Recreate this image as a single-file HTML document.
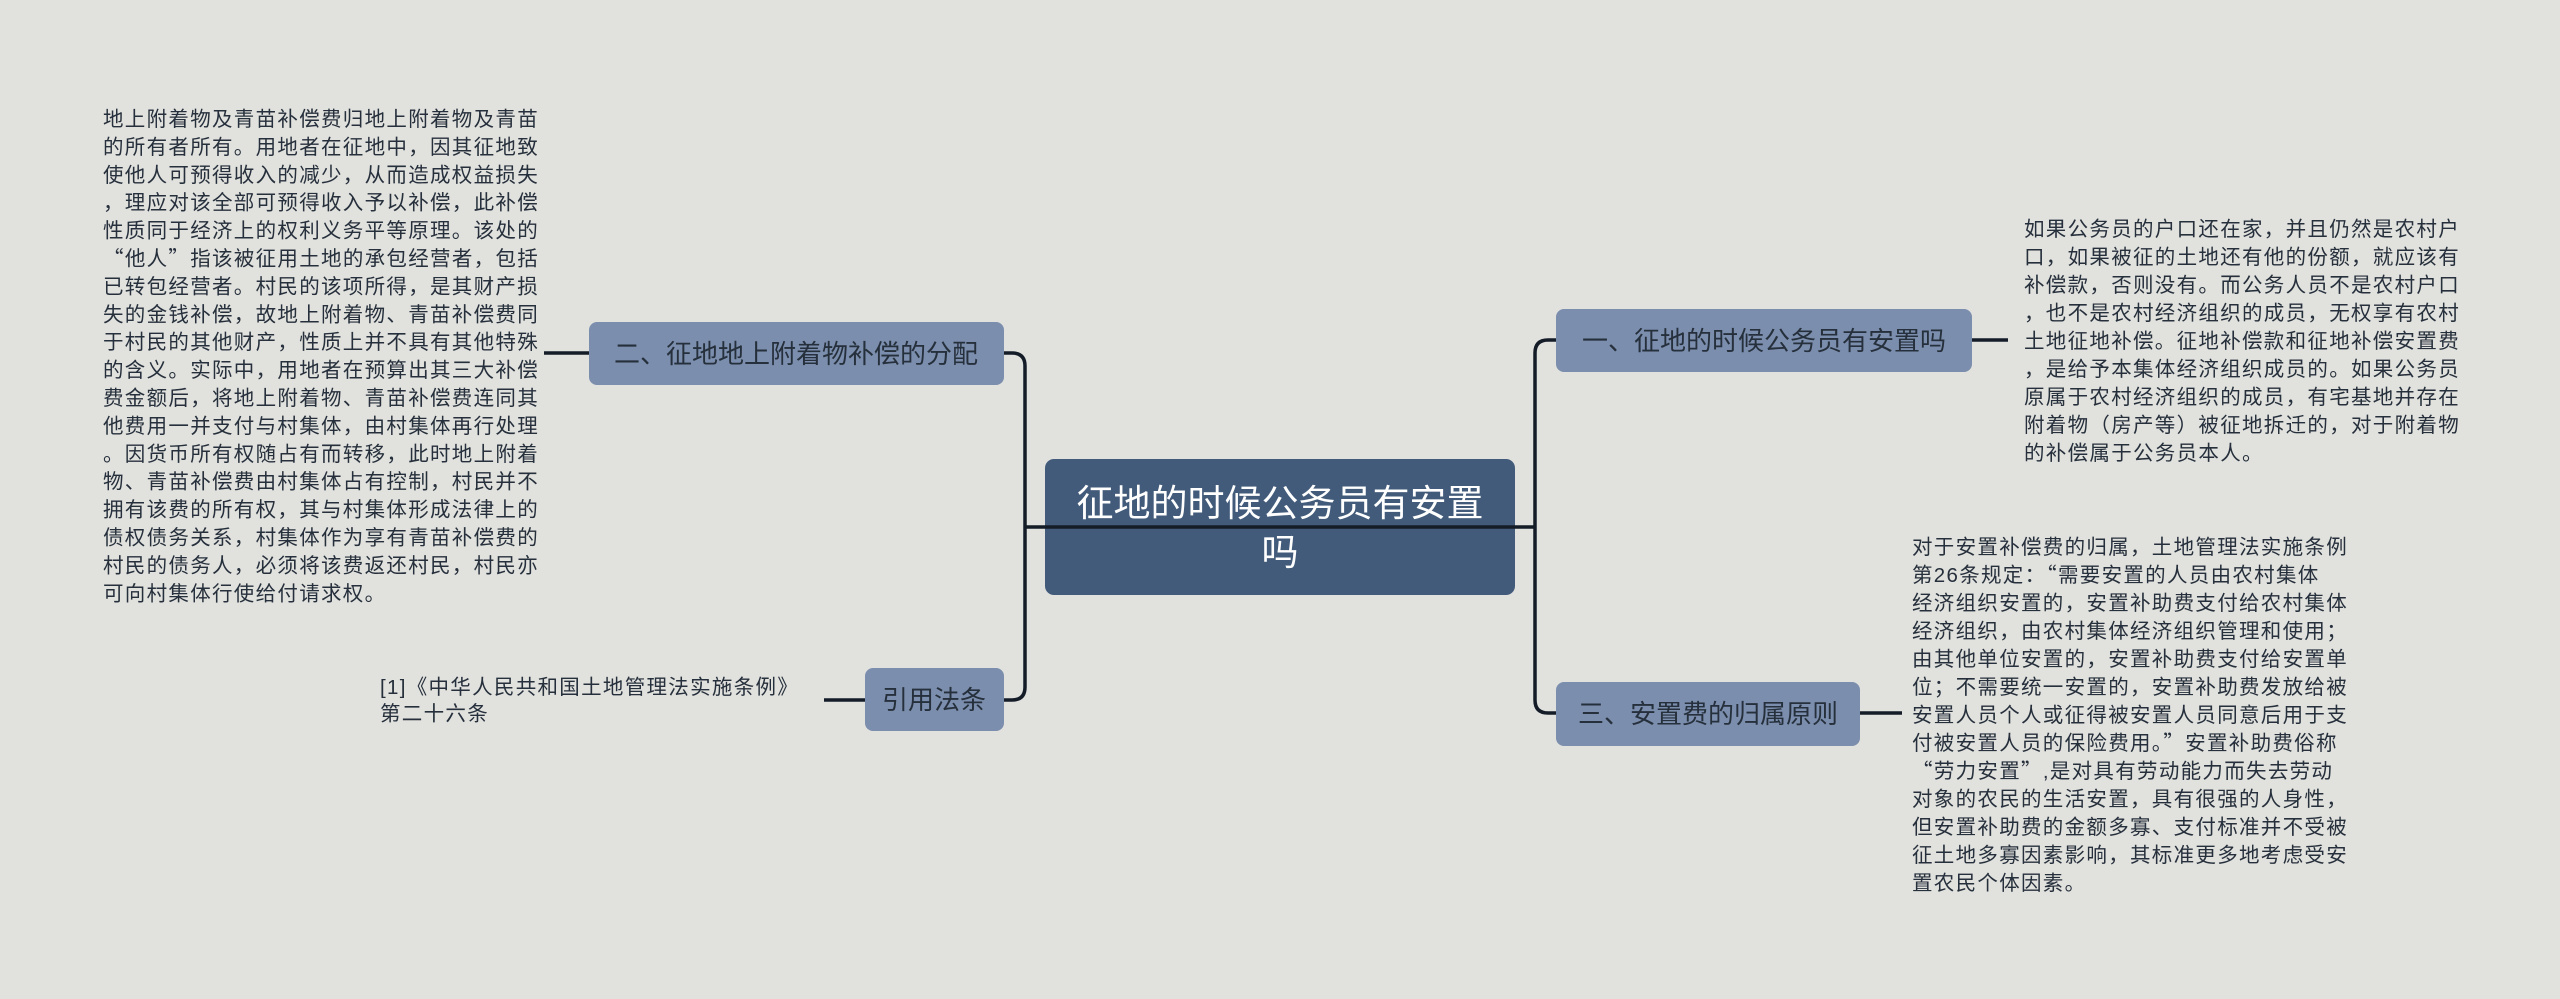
<!DOCTYPE html>
<html><head><meta charset="utf-8"><style>
html,body{margin:0;padding:0;background:#e1e1dd;}
svg{display:block}
text{font-family:"Liberation Sans","Noto Sans CJK SC",sans-serif;}
.q{font-family:"Noto Sans CJK SC",sans-serif;}
.b{letter-spacing:1.3px;}
</style></head><body>
<svg width="2560" height="999" viewBox="0 0 2560 999" xmlns="http://www.w3.org/2000/svg">
<rect width="2560" height="999" fill="#e1e1dd"/>
<g fill="none" stroke="#141c28" stroke-width="3.5">
<path d="M1004 353 H1012 Q1025 353 1025 366 V687 Q1025 700 1012 700 H1004"/>
<path d="M1025 527 H1535"/>
<path d="M1556 340 H1548 Q1535 340 1535 353 V700 Q1535 713 1548 713 H1556"/>
<path d="M544 353 H589"/>
<path d="M824 700 H865"/>
<path d="M1972 340 H2008"/>
<path d="M1860 713 H1902"/>
</g>
<rect x="1045" y="459" width="470" height="136" rx="9" fill="#425b7a"/>
<path d="M1045 527 H1515" stroke="#141c28" stroke-width="3.5"/>
<text x="1280" y="516" font-size="37" fill="#fff" text-anchor="middle">征地的时候公务员有安置</text>
<text x="1280" y="565" font-size="37" fill="#fff" text-anchor="middle">吗</text>
<g fill="#7b8ead">
<rect x="589" y="322" width="415" height="63" rx="8"/>
<rect x="865" y="668" width="139" height="63" rx="8"/>
<rect x="1556" y="309" width="416" height="63" rx="8"/>
<rect x="1556" y="682" width="304" height="64" rx="8"/>
</g>
<g font-size="26" fill="#26303c" text-anchor="middle">
<text x="796" y="363">二、征地地上附着物补偿的分配</text>
<text x="934" y="709">引用法条</text>
<text x="1764" y="350">一、征地的时候公务员有安置吗</text>
<text x="1708" y="723">三、安置费的归属原则</text>
</g>
<g font-size="20.5" fill="#26303c" class="b">
<text x="103" y="126">
<tspan x="103" dy="0">地上附着物及青苗补偿费归地上附着物及青苗</tspan>
<tspan x="103" dy="27.9">的所有者所有。用地者在征地中，因其征地致</tspan>
<tspan x="103" dy="27.9">使他人可预得收入的减少，从而造成权益损失</tspan>
<tspan x="103" dy="27.9">，理应对该全部可预得收入予以补偿，此补偿</tspan>
<tspan x="103" dy="27.9">性质同于经济上的权利义务平等原理。该处的</tspan>
<tspan x="103" dy="27.9"><tspan class="q">“</tspan>他人<tspan class="q">”</tspan>指该被征用土地的承包经营者，包括</tspan>
<tspan x="103" dy="27.9">已转包经营者。村民的该项所得，是其财产损</tspan>
<tspan x="103" dy="27.9">失的金钱补偿，故地上附着物、青苗补偿费同</tspan>
<tspan x="103" dy="27.9">于村民的其他财产，性质上并不具有其他特殊</tspan>
<tspan x="103" dy="27.9">的含义。实际中，用地者在预算出其三大补偿</tspan>
<tspan x="103" dy="27.9">费金额后，将地上附着物、青苗补偿费连同其</tspan>
<tspan x="103" dy="27.9">他费用一并支付与村集体，由村集体再行处理</tspan>
<tspan x="103" dy="27.9">。因货币所有权随占有而转移，此时地上附着</tspan>
<tspan x="103" dy="27.9">物、青苗补偿费由村集体占有控制，村民并不</tspan>
<tspan x="103" dy="27.9">拥有该费的所有权，其与村集体形成法律上的</tspan>
<tspan x="103" dy="27.9">债权债务关系，村集体作为享有青苗补偿费的</tspan>
<tspan x="103" dy="27.9">村民的债务人，必须将该费返还村民，村民亦</tspan>
<tspan x="103" dy="27.9">可向村集体行使给付请求权。</tspan>
</text>
<text x="380" y="694">
<tspan x="380" dy="0">[1]《中华人民共和国土地管理法实施条例》</tspan>
<tspan x="380" dy="26.5">第二十六条</tspan>
</text>
<text x="2024" y="236">
<tspan x="2024" dy="0">如果公务员的户口还在家，并且仍然是农村户</tspan>
<tspan x="2024" dy="28">口，如果被征的土地还有他的份额，就应该有</tspan>
<tspan x="2024" dy="28">补偿款，否则没有。而公务人员不是农村户口</tspan>
<tspan x="2024" dy="28">，也不是农村经济组织的成员，无权享有农村</tspan>
<tspan x="2024" dy="28">土地征地补偿。征地补偿款和征地补偿安置费</tspan>
<tspan x="2024" dy="28">，是给予本集体经济组织成员的。如果公务员</tspan>
<tspan x="2024" dy="28">原属于农村经济组织的成员，有宅基地并存在</tspan>
<tspan x="2024" dy="28">附着物（房产等）被征地拆迁的，对于附着物</tspan>
<tspan x="2024" dy="28">的补偿属于公务员本人。</tspan>
</text>
<text x="1912" y="554">
<tspan x="1912" dy="0">对于安置补偿费的归属，土地管理法实施条例</tspan>
<tspan x="1912" dy="28">第26条规定：<tspan class="q">“</tspan>需要安置的人员由农村集体</tspan>
<tspan x="1912" dy="28">经济组织安置的，安置补助费支付给农村集体</tspan>
<tspan x="1912" dy="28">经济组织，由农村集体经济组织管理和使用；</tspan>
<tspan x="1912" dy="28">由其他单位安置的，安置补助费支付给安置单</tspan>
<tspan x="1912" dy="28">位；不需要统一安置的，安置补助费发放给被</tspan>
<tspan x="1912" dy="28">安置人员个人或征得被安置人员同意后用于支</tspan>
<tspan x="1912" dy="28">付被安置人员的保险费用。<tspan class="q">”</tspan>安置补助费俗称</tspan>
<tspan x="1912" dy="28"><tspan class="q">“</tspan>劳力安置<tspan class="q">”</tspan>,是对具有劳动能力而失去劳动</tspan>
<tspan x="1912" dy="28">对象的农民的生活安置，具有很强的人身性，</tspan>
<tspan x="1912" dy="28">但安置补助费的金额多寡、支付标准并不受被</tspan>
<tspan x="1912" dy="28">征土地多寡因素影响，其标准更多地考虑受安</tspan>
<tspan x="1912" dy="28">置农民个体因素。</tspan>
</text>
</g>
</svg>
</body></html>
